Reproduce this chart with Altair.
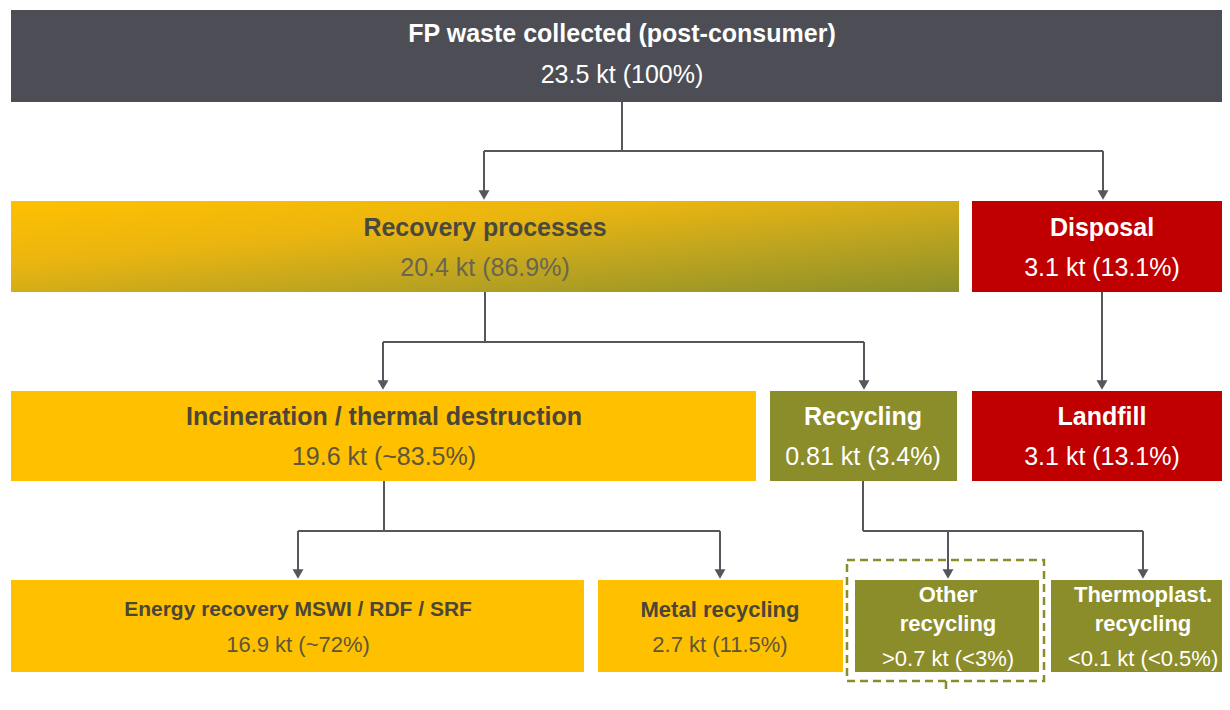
import altair as alt
import pandas as pd

# plot area geometry (page pixels; page has an 8px margin)
W, H = 1214, 686
ORIGIN = 8

# ---- boxes ----
box_names = ["FP waste collected", "Recovery processes", "Disposal",
             "Incineration / thermal destruction", "Recycling", "Landfill",
             "Energy recovery", "Metal recycling", "Other recycling", "Thermoplast. recycling"]
box_x0 = [11, 11, 972, 11, 770, 972, 11, 598, 855, 1051]
box_x1 = [1230, 959, 1230, 756, 957, 1230, 584, 843, 1039, 1230]
box_y0 = [10, 201, 201, 391, 391, 391, 580, 580, 580, 580]
box_y1 = [102, 292, 292, 481, 481, 481, 672, 672, 672, 672]
box_fill = ["#4d4e55", "gradient", "#c00000", "#ffc000", "#8b8c2a", "#c00000",
            "#ffc000", "#ffc000", "#8b8c2a", "#8b8c2a"]

# ---- labels ----
top_text = ["FP waste collected (post-consumer)"]
top_x = [622]
top_y = [34]

title_text = ["Recovery processes", "Disposal", "Incineration / thermal destruction",
              "Recycling", "Landfill", "Energy recovery MSWI / RDF / SRF",
              "Metal recycling", "Other", "recycling", "Thermoplast.", "recycling"]
title_x = [485, 1102, 384, 863, 1102, 298, 720, 948, 948, 1143, 1143]
title_y = [228, 228, 417, 417, 417, 610, 610, 595, 624, 595, 624]
title_size = [25, 25, 25, 25, 25, 21, 22, 22, 22, 22, 22]
title_color = ["#4a4a3c", "#ffffff", "#4b4637", "#ffffff", "#ffffff", "#4b4637",
               "#4b4637", "#ffffff", "#ffffff", "#ffffff", "#ffffff"]

value_text = ["23.5 kt (100%)", "20.4 kt (86.9%)", "3.1 kt (13.1%)", "19.6 kt (~83.5%)",
              "0.81 kt (3.4%)", "3.1 kt (13.1%)", "16.9 kt (~72%)", "2.7 kt (11.5%)",
              ">0.7 kt (<3%)", "<0.1 kt (<0.5%)"]
value_x = [622, 485, 1102, 384, 863, 1102, 298, 720, 948, 1143]
value_y = [75, 268, 268, 457, 457, 457, 645, 645, 659, 659]
value_size = [25, 25, 25, 25, 25, 25, 22, 22, 22, 22]
value_color = ["#ffffff", "#6a6550", "#ffffff", "#5e553e", "#ffffff", "#ffffff",
               "#5e553e", "#5e553e", "#ffffff", "#ffffff"]

# ---- connectors ----
seg_x = [622, 484, 484, 1103, 485, 383, 383, 864, 1102, 384, 298, 298, 720, 863, 863, 948, 1143]
seg_y = [102, 151, 151, 151, 292, 342, 342, 342, 292, 481, 531, 531, 531, 481, 531, 531, 531]
seg_x2 = [622, 1103, 484, 1103, 485, 864, 383, 864, 1102, 384, 720, 298, 720, 863, 1143, 948, 1143]
seg_y2 = [151, 151, 192, 192, 342, 342, 382, 382, 382, 531, 531, 571, 571, 531, 531, 571, 571]

arrow_x = [484, 1103, 383, 864, 1102, 298, 720, 948, 1143]
arrow_y = [201, 201, 391, 391, 391, 580, 580, 580, 580]

# dashed highlight
dash_x0, dash_x1, dash_y0, dash_y1 = [847], [1044], [560], [681]
dline_x, dline_y, dline_y2 = [946], [681], [712]

xs = alt.Scale(domain=[ORIGIN, ORIGIN + W], nice=False, zero=False)
ys = alt.Scale(domain=[ORIGIN, ORIGIN + H], nice=False, zero=False, reverse=True)

boxes = pd.DataFrame({"name": box_names, "x0": box_x0, "x1": box_x1,
                      "y0": box_y0, "y1": box_y1, "fill": box_fill})

plain_boxes = alt.Chart(boxes[boxes["fill"] != "gradient"]).mark_rect(strokeWidth=0).encode(
    x=alt.X("x0:Q", scale=xs, axis=None), x2="x1:Q",
    y=alt.Y("y0:Q", scale=ys, axis=None), y2="y1:Q",
    color=alt.Color("fill:N", scale=None),
)

grad = alt.Gradient(
    gradient="linear",
    stops=[alt.GradientStop(color="#ffc000", offset=0),
           alt.GradientStop(color="#eab510", offset=0.35),
           alt.GradientStop(color="#c2a61f", offset=0.62),
           alt.GradientStop(color="#8c9029", offset=1)],
    x1=0, y1=0, x2=1, y2=1,
)
grad_box = alt.Chart(boxes[boxes["fill"] == "gradient"]).mark_rect(fill=grad, strokeWidth=0).encode(
    x=alt.X("x0:Q", scale=xs, axis=None), x2="x1:Q",
    y=alt.Y("y0:Q", scale=ys, axis=None), y2="y1:Q",
)

segs = pd.DataFrame({"x": seg_x, "y": seg_y, "x2": seg_x2, "y2": seg_y2})
lines = alt.Chart(segs).mark_rule(color="#56575d", strokeWidth=2).encode(
    x=alt.X("x:Q", scale=xs, axis=None), x2="x2:Q",
    y=alt.Y("y:Q", scale=ys, axis=None), y2="y2:Q",
)

arrows = alt.Chart(pd.DataFrame({"x": arrow_x, "y": arrow_y})).mark_point(
    shape="triangle-down", filled=True, size=120, color="#56575d", opacity=1,
    strokeWidth=0, yOffset=-6,
).encode(
    x=alt.X("x:Q", scale=xs, axis=None),
    y=alt.Y("y:Q", scale=ys, axis=None),
)

dash_box = alt.Chart(pd.DataFrame({"x0": dash_x0, "x1": dash_x1, "y0": dash_y0, "y1": dash_y1})).mark_rect(
    fillOpacity=0, stroke="#8b8c2a", strokeWidth=2.5, strokeDash=[8, 5],
).encode(
    x=alt.X("x0:Q", scale=xs, axis=None), x2="x1:Q",
    y=alt.Y("y0:Q", scale=ys, axis=None), y2="y1:Q",
)
dash_line = alt.Chart(pd.DataFrame({"x": dline_x, "y": dline_y, "y2": dline_y2})).mark_rule(
    color="#8b8c2a", strokeWidth=2.5, strokeDash=[8, 5],
).encode(
    x=alt.X("x:Q", scale=xs, axis=None),
    y=alt.Y("y:Q", scale=ys, axis=None), y2="y2:Q",
)

FONT = "Liberation Sans, Arial, sans-serif"

top_lbl = alt.Chart(pd.DataFrame({"t": top_text, "x": top_x, "y": top_y})).mark_text(
    font=FONT, fontWeight="bold", fontSize=25, color="#ffffff", align="center", baseline="middle",
).encode(
    x=alt.X("x:Q", scale=xs, axis=None), y=alt.Y("y:Q", scale=ys, axis=None), text="t:N",
)

titles = alt.Chart(pd.DataFrame({"t": title_text, "x": title_x, "y": title_y,
                                 "s": title_size, "c": title_color})).mark_text(
    font=FONT, fontWeight="bold", align="center", baseline="middle",
).encode(
    x=alt.X("x:Q", scale=xs, axis=None), y=alt.Y("y:Q", scale=ys, axis=None), text="t:N",
    size=alt.Size("s:Q", scale=None, legend=None), color=alt.Color("c:N", scale=None),
)

values = alt.Chart(pd.DataFrame({"t": value_text, "x": value_x, "y": value_y,
                                 "s": value_size, "c": value_color})).mark_text(
    font=FONT, fontWeight="normal", align="center", baseline="middle",
).encode(
    x=alt.X("x:Q", scale=xs, axis=None), y=alt.Y("y:Q", scale=ys, axis=None), text="t:N",
    size=alt.Size("s:Q", scale=None, legend=None), color=alt.Color("c:N", scale=None),
)

chart = alt.layer(
    plain_boxes, grad_box, lines, arrows, dash_box, dash_line, top_lbl, titles, values
).properties(
    width=W, height=H, padding=0, autosize=alt.AutoSizeParams(type="none"),
).configure_view(strokeWidth=0).resolve_scale(color="independent", size="independent")

chart.save("out.html", embed_options={"renderer": "svg", "actions": False})
